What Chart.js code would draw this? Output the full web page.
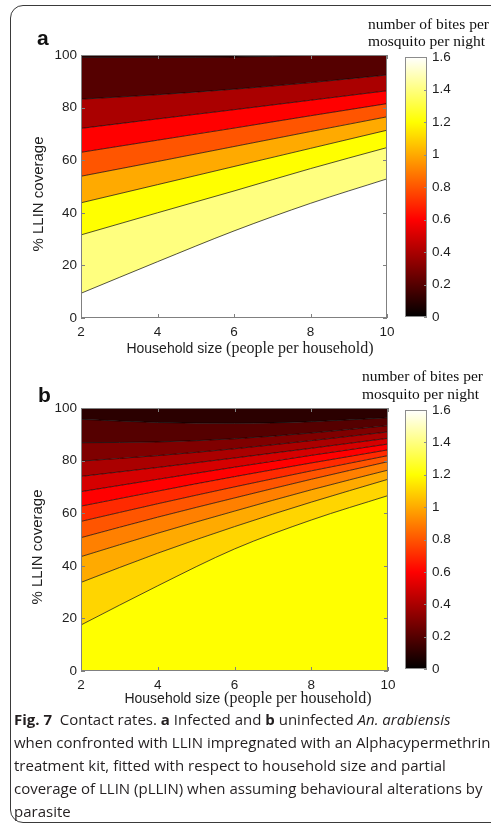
<!DOCTYPE html>
<html><head><meta charset="utf-8">
<script src="https://cdn.jsdelivr.net/npm/chart.js@4.4.1/dist/chart.umd.min.js"></script>
<style>
html,body{margin:0;padding:0;background:#fff;width:491px;height:823px;overflow:hidden;position:relative;}
canvas{position:absolute;}
#frame{position:absolute;left:10px;top:5px;width:560px;height:818px;border:1.3px solid #3a3a3a;border-radius:13px;box-sizing:border-box;}
#caption{position:absolute;left:14px;top:708px;font-family:"Open Sans",sans-serif;font-size:15px;line-height:23px;color:#231f20;white-space:nowrap;}
#caption b{font-weight:700;}
</style></head>
<body>
<div id="frame"></div>
<canvas id="mainA" width="491" height="362" style="left:0;top:0"></canvas>
<canvas id="barA" width="96" height="300" style="left:395px;top:40px"></canvas>
<canvas id="mainB" width="491" height="350" style="left:0;top:360px"></canvas>
<canvas id="barB" width="96" height="299" style="left:395px;top:393px"></canvas>
<div id="caption"><b>Fig. 7</b>&nbsp; Contact rates. <b>a</b> Infected and <b>b</b> uninfected <i>An. arabiensis</i><br>when confronted with LLIN impregnated with an Alphacypermethrin<br>treatment kit, fitted with respect to household size and partial<br>coverage of LLIN (pLLIN) when assuming behavioural alterations by<br>parasite</div>
<script>
// ---------------- data ----------------
const householdSize = [2, 4, 6, 8, 10];
const xTicks = [2, 4, 6, 8, 10];
const yTicks = [0, 20, 40, 60, 80, 100];
const colorbarTicks = [0, 0.2, 0.4, 0.6, 0.8, 1, 1.2, 1.4, 1.6];
const colorbarTickLabels = ['0', '0.2', '0.4', '0.6', '0.8', '1', '1.2', '1.4', '1.6'];
const colorbarMax = 1.6;

// panel a: contour levels (bites per mosquito per night) and % LLIN coverage of each contour at householdSize
const levelsA = [0.1, 0.2, 0.4, 0.6, 0.8, 1.0, 1.2, 1.4];
const contoursA = [
  [99.1, 99.1, 99.2, 99.8, 100],
  [83.2, 84.9, 87.0, 89.5, 92.4],
  [72.1, 75.7, 79.2, 82.8, 86.4],
  [63.0, 67.6, 72.2, 76.9, 81.5],
  [53.9, 59.5, 65.2, 70.9, 76.5],
  [43.8, 50.7, 57.6, 64.5, 71.4],
  [31.6, 40.0, 48.3, 56.8, 64.8],
  [9.4, 21.4, 33.1, 43.6, 52.9]
];
const maxA = 1.6;

// panel b
const levelsB = [0.1, 0.2, 0.3, 0.4, 0.5, 0.6, 0.7, 0.8, 0.9, 1.0, 1.1];
const contoursB = [
  [95.7, 94.5, 94.2, 94.8, 96.3],
  [86.8, 87.1, 88.3, 90.5, 93.3],
  [79.8, 81.9, 84.5, 87.6, 90.9],
  [74.0, 77.4, 81.0, 84.7, 88.5],
  [68.2, 72.9, 77.5, 82.0, 86.3],
  [62.7, 68.4, 73.9, 79.1, 84.1],
  [56.9, 63.6, 70.0, 76.1, 81.9],
  [50.7, 58.5, 65.8, 72.9, 79.6],
  [43.5, 52.4, 60.8, 68.9, 76.4],
  [33.7, 44.8, 54.9, 64.2, 72.9],
  [17.5, 32.4, 46.4, 57.4, 66.7]
];
const maxB = 1.2;

// ---------------- styling helpers ----------------
function hot(f) {
  const r = Math.min(1, f / 0.375);
  const g = Math.max(0, Math.min(1, (f - 0.375) / 0.375));
  const b = Math.max(0, Math.min(1, (f - 0.75) / 0.25));
  return 'rgb(' + Math.round(r * 255) + ',' + Math.round(g * 255) + ',' + Math.round(b * 255) + ')';
}
const SANS = '"Liberation Sans", Arial, sans-serif';
const SERIF = '"Liberation Serif", "Times New Roman", serif';
const TICK_FONT = { family: SANS, size: 13.5 };
const TEXT_COLOR = '#1e1e1e';

function buildDatasets(levels, contours, maxVal) {
  const ds = [];
  ds.push({ data: householdSize.map(x => ({ x: x, y: 100 })), borderWidth: 0, pointRadius: 0, fill: false });
  contours.forEach((c, i) => {
    ds.push({
      data: householdSize.map((x, j) => ({ x: x, y: c[j] })),
      borderColor: 'rgba(0,0,0,0.85)', borderWidth: 0.8, pointRadius: 0,
      fill: '-1', backgroundColor: hot(levels[i] / colorbarMax),
      cubicInterpolationMode: 'monotone'
    });
  });
  ds.push({ data: householdSize.map(x => ({ x: x, y: 0 })), borderWidth: 0, pointRadius: 0,
    fill: '-1', backgroundColor: hot(maxVal / colorbarMax) });
  return ds;
}

const frameTicks = {
  id: 'frameTicks',
  afterDatasetsDraw(chart, args, o) {
    const ctx = chart.ctx, ca = chart.chartArea;
    ctx.save();
    ctx.strokeStyle = o.color || '#7f7f7f';
    ctx.lineWidth = 1;
    ctx.beginPath();
    const len = o.len || 4;
    if (o.xTicks) o.xTicks.forEach(v => {
      const px = Math.round(chart.scales.x.getPixelForValue(v)) + 0.5;
      ctx.moveTo(px, ca.bottom); ctx.lineTo(px, ca.bottom - len);
      ctx.moveTo(px, ca.top); ctx.lineTo(px, ca.top + len);
    });
    if (o.yTicks) o.yTicks.forEach(v => {
      const py = Math.round(chart.scales.y.getPixelForValue(v)) + 0.5;
      if (!o.rightOnly) { ctx.moveTo(ca.left, py); ctx.lineTo(ca.left + len, py); }
      ctx.moveTo(ca.right, py); ctx.lineTo(ca.right - len, py);
    });
    ctx.stroke();
    ctx.strokeRect(ca.left + 0.5, ca.top + 0.5, ca.right - ca.left - 1, ca.bottom - ca.top - 1);
    ctx.restore();
  }
};

const chartText = {
  id: 'chartText',
  afterDraw(chart, args, o) {
    const ctx = chart.ctx;
    (o.items || []).forEach(it => {
      ctx.save();
      ctx.translate(it.x, it.y);
      if (it.rotate) ctx.rotate(it.rotate);
      ctx.textBaseline = 'alphabetic';
      ctx.textAlign = 'left';
      ctx.fillStyle = it.color || TEXT_COLOR;
      let total = 0;
      it.parts.forEach(p => { ctx.font = p.font; total += ctx.measureText(p.text).width; });
      let x = it.align === 'left' ? 0 : -total / 2;
      it.parts.forEach(p => { ctx.font = p.font; ctx.fillText(p.text, x, 0); x += ctx.measureText(p.text).width; });
      ctx.restore();
    });
  }
};

function mainChart(id, levels, contours, maxVal, pad, xAxisH, texts) {
  return new Chart(document.getElementById(id), {
    type: 'line',
    data: { datasets: buildDatasets(levels, contours, maxVal) },
    plugins: [frameTicks, chartText],
    options: {
      responsive: false, animation: false, devicePixelRatio: 1,
      layout: { padding: pad },
      plugins: {
        legend: { display: false }, tooltip: { enabled: false },
        frameTicks: { xTicks: xTicks, yTicks: yTicks, len: 4, color: '#808080' },
        chartText: { items: texts }
      },
      scales: {
        x: {
          type: 'linear', min: 2, max: 10,
          afterBuildTicks: s => { s.ticks = xTicks.map(v => ({ value: v })); },
          ticks: { font: TICK_FONT, color: TEXT_COLOR, padding: 6, maxRotation: 0 },
          grid: { display: false, drawTicks: false }, border: { display: false },
          afterFit: s => { s.height = xAxisH; }
        },
        y: {
          type: 'linear', min: 0, max: 100,
          afterBuildTicks: s => { s.ticks = yTicks.map(v => ({ value: v })); },
          ticks: { font: TICK_FONT, color: TEXT_COLOR, padding: 4 },
          grid: { display: false, drawTicks: false }, border: { display: false },
          afterFit: s => { s.width = 81; }
        }
      }
    }
  });
}

function colorbar(id, padTop, padBottom) {
  return new Chart(document.getElementById(id), {
    type: 'bar',
    data: { labels: [''], datasets: [{
      data: [colorbarMax], borderWidth: 0, barPercentage: 1, categoryPercentage: 1,
      backgroundColor: c => {
        const ca = c.chart.chartArea;
        if (!ca) return '#000';
        const g = c.chart.ctx.createLinearGradient(0, ca.bottom, 0, ca.top);
        g.addColorStop(0, '#000000'); g.addColorStop(0.375, '#ff0000');
        g.addColorStop(0.75, '#ffff00'); g.addColorStop(1, '#ffffff');
        return g;
      }
    }] },
    plugins: [frameTicks],
    options: {
      responsive: false, animation: false, devicePixelRatio: 1,
      layout: { padding: { left: 10, top: padTop, bottom: padBottom, right: 0 } },
      plugins: { legend: { display: false }, tooltip: { enabled: false },
        frameTicks: { yTicks: colorbarTicks, rightOnly: true, len: 3, color: '#8c8c8c' } },
      scales: {
        x: { display: false },
        y: {
          position: 'right', min: 0, max: colorbarMax,
          afterBuildTicks: s => { s.ticks = colorbarTicks.map(v => ({ value: v })); },
          ticks: { font: TICK_FONT, color: TEXT_COLOR, padding: 5, callback: (v, i) => colorbarTickLabels[i] },
          grid: { display: false, drawTicks: false }, border: { display: false },
          afterFit: s => { s.width = 64; }
        }
      }
    }
  });
}

const xTitleParts = [
  { text: 'Household size ', font: '14px ' + SANS },
  { text: '(people per household)', font: '16px ' + SERIF }
];
const yTitleParts = [{ text: '% LLIN coverage', font: '15px ' + SANS }];
const cbTitle1 = [{ text: 'number of bites per', font: '15.5px ' + SERIF }];
const cbTitle2 = [{ text: 'mosquito per night', font: '15.5px ' + SERIF }];

mainChart('mainA', levelsA, contoursA, maxA, { top: 55, left: 0, right: 104, bottom: 0 }, 44, [
  { parts: xTitleParts, x: 250, y: 353 },
  { parts: yTitleParts, x: 43, y: 194, rotate: -Math.PI / 2 },
  { parts: [{ text: 'a', font: 'bold 21px ' + SANS }], x: 37, y: 45, align: 'left', color: '#111' },
  { parts: cbTitle1, x: 368, y: 29, align: 'left', color: '#111' },
  { parts: cbTitle2, x: 368, y: 46, align: 'left', color: '#111' }
]);
colorbar('barA', 17, 23);

mainChart('mainB', levelsB, contoursB, maxB, { top: 48, left: 0, right: 103, bottom: 0 }, 39, [
  { parts: xTitleParts, x: 248, y: 343 },
  { parts: yTitleParts, x: 42, y: 187, rotate: -Math.PI / 2 },
  { parts: [{ text: 'b', font: 'bold 21px ' + SANS }], x: 38, y: 42, align: 'left', color: '#111' },
  { parts: cbTitle1, x: 362, y: 21, align: 'left', color: '#111' },
  { parts: cbTitle2, x: 362, y: 38.5, align: 'left', color: '#111' }
]);
colorbar('barB', 17, 23);
</script>
</body></html>
